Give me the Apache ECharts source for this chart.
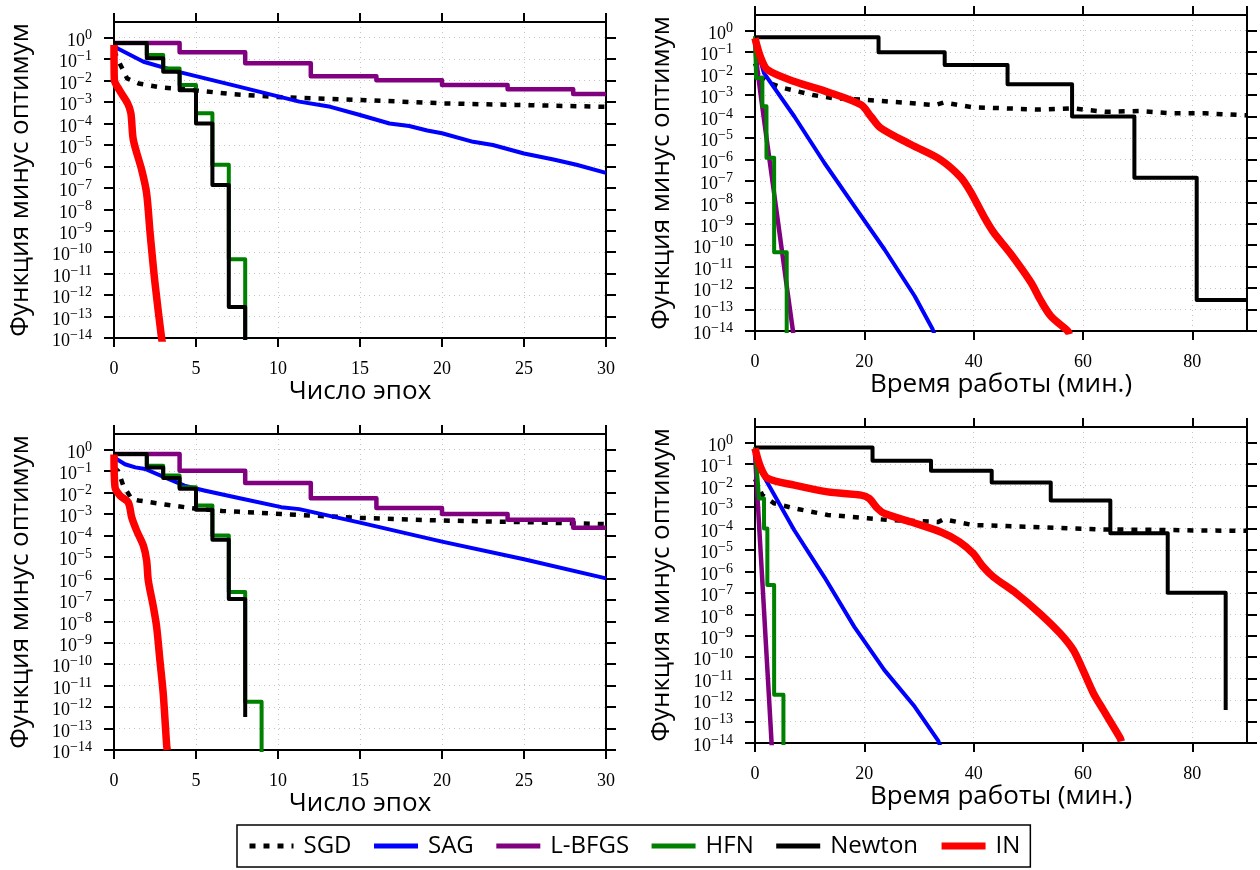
<!DOCTYPE html>
<html>
<head>
<meta charset="utf-8">
<script src="https://cdn.jsdelivr.net/npm/echarts@6/dist/echarts.min.js"></script>
<style>
  html, body { margin: 0; padding: 0; background: #fff; }
  #chart { width: 1260px; height: 870px; }
</style>
</head>
<body>
<div id="chart"></div>
<script>
// ---- data: [x, f - f*] pairs ----
// top-left: epochs
const sgdEpochA = [[0,0.25],[0.3,0.076],[0.8,0.0126],[1.5,0.0074],[2.8,0.0049],[4.4,0.0039],[7.3,0.0023],[10.3,0.00166],[15,0.00126],[20,0.00087],[25,0.00072],[30,0.0006]];
const sagEpochA = [[0,0.45],[0.2,0.32],[1.8,0.076],[4,0.025],[7.3,0.006],[11.3,0.00105],[13.2,0.0006],[15,0.00025],[16.8,0.0001],[18,0.000076],[19.1,0.000047],[20,0.000035],[21.9,0.000014],[23.1,0.00001],[25,0.000004],[26.8,0.0000021],[28.2,0.0000012],[30,0.0000005]];
const lbfgsEpochA = [[0,0.56],[4,0.21],[8,0.065],[12,0.016],[16,0.0105],[20,0.0063],[24,0.004],[28,0.0024],[30,0.0024]];
const hfnEpochA = [[0,0.56],[2,0.155],[3,0.037],[4,0.0063],[5,0.0003],[6,0.0000012],[7,4.7e-11],[8,1e-16]];
const newtonEpochA = [[0,0.56],[2,0.11],[3,0.026],[4,0.0036],[5,0.0001],[6,1.35e-7],[7,2.8e-13],[8,1e-16]];
const inEpochA = [[0,0.46],[0.02,0.011],[0.33,0.0036],[0.83,0.00087],[1.03,0.0003],[1.18,0.000017],[1.69,6.8e-7],[1.99,5.5e-8],[2.2,8e-10],[2.5,3.6e-12],[2.9,1e-14],[2.95,6e-15]];

// top-right: minutes
const sgdTimeA = [[0,0.03],[1,0.007],[2.2,0.004],[5,0.0022],[10.6,0.001],[14.2,0.00072],[20.4,0.00059],[27,0.00045],[33,0.00034],[34.5,0.00045],[39.8,0.00027],[45.9,0.00024],[52,0.00021],[58,0.00024],[64.1,0.000166],[70.2,0.00018],[76.3,0.00014],[82.4,0.00014],[89,0.000117],[90,0.000115]];
const sagTimeA = [[0,0.3],[1.65,0.0105],[7.2,0.0001],[12.7,6.8e-7],[18.2,6.5e-9],[23.7,6.3e-11],[29.2,4.3e-13],[32.5,1.2e-14],[33,5e-15]];
const lbfgsTimeA = [[0,0.3],[0.3,0.03],[1,0.0012],[2,0.000016],[3,2.2e-7],[4,3e-9],[5,4e-11],[6,5.4e-13],[6.9,1.2e-14],[7,8e-15]];
const hfnTimeA = [[0,0.56],[0.05,0.155],[0.12,0.037],[0.2,0.0063],[1.35,0.0003],[2.1,0.0000012],[3.5,4.7e-11],[5.8,1e-16]];
const newtonTimeA = [[0,0.5],[22.6,0.1],[34.7,0.025],[46.2,0.0032],[58,0.0001],[69.4,1.4e-7],[80.8,2.8e-13],[90,2.8e-13]];
const inTimeA = [[0,0.45],[1,0.06],[2.3,0.015],[7.2,0.0043],[13.3,0.0014],[19.4,0.00035],[21.2,0.0001],[23,0.000029],[28.6,0.0000048],[33.9,9.8e-7],[37.6,1.5e-7],[39.4,3.2e-8],[41.9,2.1e-9],[43.7,3.8e-10],[46.7,4.2e-11],[50.5,1.8e-12],[52.2,2.8e-13],[54.1,5e-14],[57.2,1e-14],[57.5,7e-15]];

// bottom-left: epochs
const sgdEpochB = [[0,0.15],[0.26,0.1],[0.57,0.021],[1.08,0.005],[1.5,0.0043],[3.1,0.0028],[4.7,0.0019],[6.6,0.0014],[10.2,0.001],[15,0.00066],[20,0.0005],[25,0.00042],[30,0.00034]];
const sagEpochB = [[0,0.44],[0.67,0.21],[1.3,0.15],[1.9,0.126],[3.1,0.051],[4.3,0.021],[5.5,0.0126],[7.6,0.0056],[10.2,0.0021],[11.3,0.0017],[15,0.0004],[20,0.000052],[25,0.0000078],[30,0.000001]];
const lbfgsEpochB = [[0,0.63],[4,0.105],[8,0.028],[12,0.0055],[16,0.0019],[20,0.001],[24,0.00055],[28,0.00023],[30,0.00023]];
const hfnEpochB = [[0,0.63],[2,0.18],[3,0.062],[4,0.018],[5,0.0025],[6,0.0001],[7,2.3e-7],[8,1.8e-12],[9,1e-16]];
const newtonEpochB = [[0,0.63],[2,0.15],[3,0.048],[4,0.015],[5,0.0016],[6,0.000063],[7,1.1e-7],[8,3.5e-13]];
const inEpochB = [[0,0.6],[0.06,0.018],[0.37,0.0072],[0.87,0.0035],[1.08,0.0007],[1.38,0.00017],[1.79,0.000034],[1.99,0.0000069],[2.09,8.1e-7],[2.4,4.7e-8],[2.6,5.5e-9],[2.8,1.5e-10],[3.0,4.4e-12],[3.21,1.7e-14],[3.25,1e-14]];

// bottom-right: minutes
const sgdTimeB = [[0,0.02],[1.35,0.0036],[3.5,0.0015],[7.2,0.00087],[13.3,0.00043],[20.6,0.0003],[24.3,0.00025],[30,0.00022],[33.5,0.0002],[34.5,0.00027],[39.9,0.000145],[46,0.00013],[52.1,0.000115],[58,0.0001],[64.4,0.00009],[70,0.000088],[76.6,0.000085],[82,0.00008],[90,0.000079]];
const sagTimeB = [[0,0.35],[1.65,0.026],[7.16,0.000085],[12.66,5.6e-7],[18.17,2.6e-9],[23.67,2.5e-11],[29.2,5e-13],[33.5,1.3e-14],[34,6e-15]];
const lbfgsTimeB = [[0,0.3],[0.5,0.0018],[1,0.000011],[1.5,7e-8],[2,4e-10],[2.5,2.5e-12],[3,1.4e-14],[3.1,5e-15]];
const hfnTimeB = [[0,0.63],[0.15,0.18],[0.3,0.062],[0.5,0.018],[0.73,0.0025],[1.65,0.0001],[2.26,2.3e-7],[3.5,1.8e-12],[5.2,1e-16]];
const newtonTimeB = [[0,0.6],[21.5,0.145],[32.2,0.049],[43.3,0.014],[54.1,0.002],[65,0.00006],[75.5,1e-7],[86.1,3.5e-13]];
const inTimeB = [[0,0.55],[1,0.076],[2.3,0.022],[7.2,0.0105],[13.3,0.0051],[19.4,0.0036],[20.9,0.0025],[22.4,0.00087],[23.7,0.0005],[28.6,0.0002],[34.2,0.000065],[37.4,0.000024],[39.9,0.0000069],[41.7,0.0000017],[43.6,5.6e-7],[47.8,9.5e-8],[52.1,1.1e-8],[55.8,1.3e-9],[58.2,2.2e-10],[60,2.5e-11],[61.9,2.1e-12],[63.7,3.5e-13],[66.8,1.7e-14],[67,1.2e-14]];

// axis ticks: one per decade
const yTickExponents = [0, -1, -2, -3, -4, -5, -6, -7, -8, -9, -10, -11, -12, -13, -14];
const yTop = 5.4;
const seriesNames = ['SGD', 'SAG', 'L-BFGS', 'HFN', 'Newton', 'IN'];

const yLabel = 'Функция минус оптимум';
const epochLabel = 'Число эпох';
const timeLabel = 'Время работы (мин.)';

const SANS = 'Open Sans';
const SERIF = 'Liberation Serif';
const BLACK = '#000';
const DOTS = { color: '#c4c4c4', width: 1, type: [1, 4] };

// even decades first, then odd ones: echarts only drops a first/last label when it
// overlaps the one listed next to it, so this keeps every decade label
const yTickValues = [
    ...yTickExponents.filter(e => e % 2 === 0),
    ...yTickExponents.filter(e => e % 2 !== 0),
].map(e => Math.pow(10, e));

// epoch panels step L-BFGS per epoch; time panels draw it as a plain line
const panels = [
    { left: 114, top: 22, max: 30, step: 5, title: epochLabel, epochs: true, data: [sgdEpochA, sagEpochA, lbfgsEpochA, hfnEpochA, newtonEpochA, inEpochA] },
    { left: 755, top: 15, max: 90, step: 20, title: timeLabel, epochs: false, data: [sgdTimeA, sagTimeA, lbfgsTimeA, hfnTimeA, newtonTimeA, inTimeA] },
    { left: 114, top: 434, max: 30, step: 5, title: epochLabel, epochs: true, data: [sgdEpochB, sagEpochB, lbfgsEpochB, hfnEpochB, newtonEpochB, inEpochB] },
    { left: 755, top: 427, max: 90, step: 20, title: timeLabel, epochs: false, data: [sgdTimeB, sagTimeB, lbfgsTimeB, hfnTimeB, newtonTimeB, inTimeB] },
];

const styles = {
    'SGD':    { color: '#000000', width: 4.5, type: [6, 8], legendWidth: 5 },
    'SAG':    { color: '#0000ff', width: 4, legendWidth: 5 },
    'L-BFGS': { color: '#800080', width: 4.5, step: 'epochs', legendWidth: 5 },
    'HFN':    { color: '#008000', width: 4, step: 'always', legendWidth: 5 },
    'Newton': { color: '#000000', width: 4, step: 'always', legendWidth: 5 },
    'IN':     { color: '#ff0000', width: 7.5, smooth: 0.3, legendWidth: 7 },
};

const axisLine = { show: true, onZero: false, lineStyle: { color: BLACK, width: 2 } };

function xAxesFor(p, gi) {
    const base = {
        gridIndex: gi, type: 'value', min: 0, max: p.max, interval: p.step,
        axisLine,
        axisTick: { show: true, inside: false, length: 9, lineStyle: { color: BLACK, width: 2 } },
    };
    return [
        {
            ...base, position: 'bottom',
            name: p.title, nameLocation: 'middle', nameGap: 41,
            nameTextStyle: { fontFamily: SANS, fontSize: 26, color: BLACK },
            axisLabel: { fontFamily: SERIF, fontSize: 18, color: BLACK, margin: 22, showMaxLabel: p.epochs },
            splitLine: { show: true, lineStyle: DOTS },
        },
        { ...base, position: 'top', axisLabel: { show: false }, splitLine: { show: false } },
    ];
}

function yAxesFor(p, gi) {
    const base = {
        gridIndex: gi, type: 'log', logBase: 10, min: 1e-14, max: yTop,
        axisLine,
        axisTick: { show: true, inside: false, length: 10, customValues: yTickValues, lineStyle: { color: BLACK, width: 2 } },
    };
    return [
        {
            ...base, position: 'left',
            name: yLabel, nameLocation: 'middle', nameGap: 80, nameRotate: 90,
            nameTextStyle: { fontFamily: SANS, fontSize: 26, color: BLACK },
            axisLabel: {
                customValues: yTickValues, margin: 22, color: BLACK,
                formatter: v => {
                    const e = Math.round(Math.log10(v));
                    return '{b|10}{s|' + (e === 0 ? '0' : '\u2212' + (-e)) + '}';
                },
                rich: {
                    b: { fontFamily: SERIF, fontSize: 18, color: BLACK, lineHeight: 12, padding: [7, 0, 0, 0] },
                    s: { fontFamily: SERIF, fontSize: 14, color: BLACK, lineHeight: 9, padding: [0, 0, 5, 0] },
                },
            },
            splitLine: { show: true, lineStyle: DOTS },
        },
        { ...base, position: 'right', axisLabel: { show: false }, splitLine: { show: false } },
    ];
}

const grid = [], xAxis = [], yAxis = [], series = [];
panels.forEach((p, gi) => {
    grid.push({ left: p.left, top: p.top, width: 492, height: 316, outerBoundsMode: 'none' });
    xAxis.push(...xAxesFor(p, gi));
    yAxis.push(...yAxesFor(p, gi));
    seriesNames.forEach((name, si) => {
        const st = styles[name];
        const stepped = st.step === 'always' || (st.step === 'epochs' && p.epochs);
        series.push({
            type: 'line', name, data: p.data[si],
            xAxisIndex: 2 * gi, yAxisIndex: 2 * gi,
            symbol: 'none', step: stepped ? 'end' : false, smooth: st.smooth || false,
            itemStyle: { color: st.color },
            lineStyle: { color: st.color, width: st.width, type: st.type || 'solid', join: 'round' },
            z: 2 + si, silent: true, animation: false,
        });
    });
});

const chart = echarts.init(document.getElementById('chart'), null, { renderer: 'canvas' });
chart.setOption({
    backgroundColor: '#fff',
    animation: false,
    grid, xAxis, yAxis, series,
    legend: {
        data: seriesNames.map(n => ({ name: n, lineStyle: { width: styles[n].legendWidth } })),
        left: 237, top: 825,
        itemWidth: 44, itemHeight: 14, itemGap: 20,
        padding: [9, 10],
        borderColor: BLACK, borderWidth: 1.5, borderRadius: 0,
        selectedMode: false,
        itemStyle: { opacity: 0 },
        textStyle: { fontFamily: SANS, fontSize: 24, color: BLACK, padding: [0, 0, 0, 5] },
    },
});
</script>
</body>
</html>
